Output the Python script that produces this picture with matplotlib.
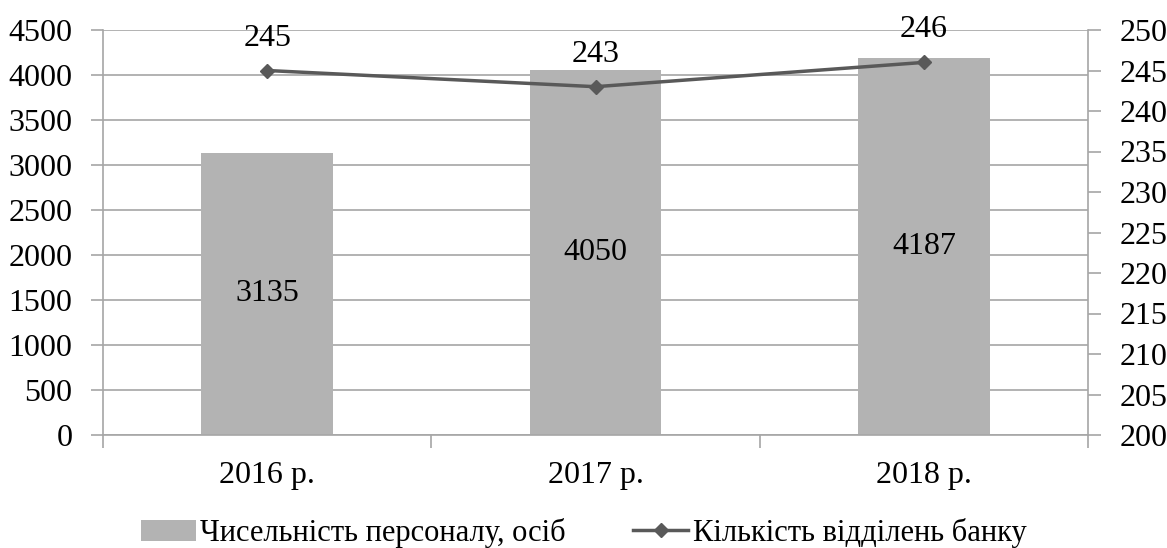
import matplotlib
matplotlib.use("Agg")
import matplotlib.pyplot as plt
from matplotlib.lines import Line2D
from matplotlib.patches import Patch
import numpy as np

years = ["2016 р.", "2017 р.", "2018 р."]
staff = [3135, 4050, 4187]
branches = [245, 243, 246]

bar_name = "Чисельність персоналу, осіб"
line_name = "Кількість відділень банку"

plt.rcParams['font.family'] = ['Liberation Serif', 'DejaVu Serif']
plt.rcParams['font.size'] = 23

bar_color = '#b3b3b3'
line_color = '#595959'
grid_color = '#a6a6a6'

fig = plt.figure(figsize=(11.67, 5.48), dpi=100)
ax = fig.add_axes([103 / 1167, 1 - 435 / 548, (1088 - 103) / 1167, (435 - 30) / 548])
x = np.arange(len(years))

ax.bar(x, staff, width=0.4, color=bar_color, zorder=2)
ax.set_xlim(-0.5, 2.5)
ax.set_ylim(0, 4500)
ax.set_yticks(np.arange(0, 4501, 500))
ax.grid(axis='y', color=grid_color, linewidth=1.2, zorder=0)
ax.set_xticks(x)
ax.set_xticklabels(years)
ax.set_xticks(np.arange(-0.5, 2.6, 1), minor=True)
ax.tick_params(axis='x', which='major', length=0, pad=19)
ax.tick_params(axis='x', which='minor', length=9, color=grid_color, width=1.2)
ax.tick_params(axis='y', length=9, color=grid_color, width=1.2, pad=13)
for s in ['top', 'right']:
    ax.spines[s].set_visible(False)
for s in ['left', 'bottom']:
    ax.spines[s].set_color(grid_color)
    ax.spines[s].set_linewidth(1.2)

for xi, v in zip(x, staff):
    ax.text(xi, v / 2, str(v), ha='center', va='center', zorder=5)

ax2 = ax.twinx()
ax2.plot(x, branches, color=line_color, linewidth=2.5, marker='D', markersize=7, zorder=4)
ax2.set_ylim(200, 250)
ax2.set_yticks(np.arange(200, 251, 5))
ax2.tick_params(axis='y', length=9, color=grid_color, width=1.2, pad=14)
for s in ['top', 'left', 'bottom']:
    ax2.spines[s].set_visible(False)
ax2.spines['right'].set_color(grid_color)
ax2.spines['right'].set_linewidth(1.2)

for xi, v in zip(x, branches):
    ax2.annotate(str(v), (xi, v), xytext=(0, 18), textcoords='offset points',
                 ha='center', va='baseline')

handles = [Patch(facecolor=bar_color, edgecolor='none'),
           Line2D([0], [0], color=line_color, linewidth=2.5, marker='D', markersize=7)]
fig.legend(handles, [bar_name, line_name], loc='lower center',
           bbox_to_anchor=(0.5, -0.05), ncol=2, frameon=False, fontsize=22,
           handlelength=1.8, handletextpad=0.15, columnspacing=2.2)

fig.savefig('out.png', dpi=100)
